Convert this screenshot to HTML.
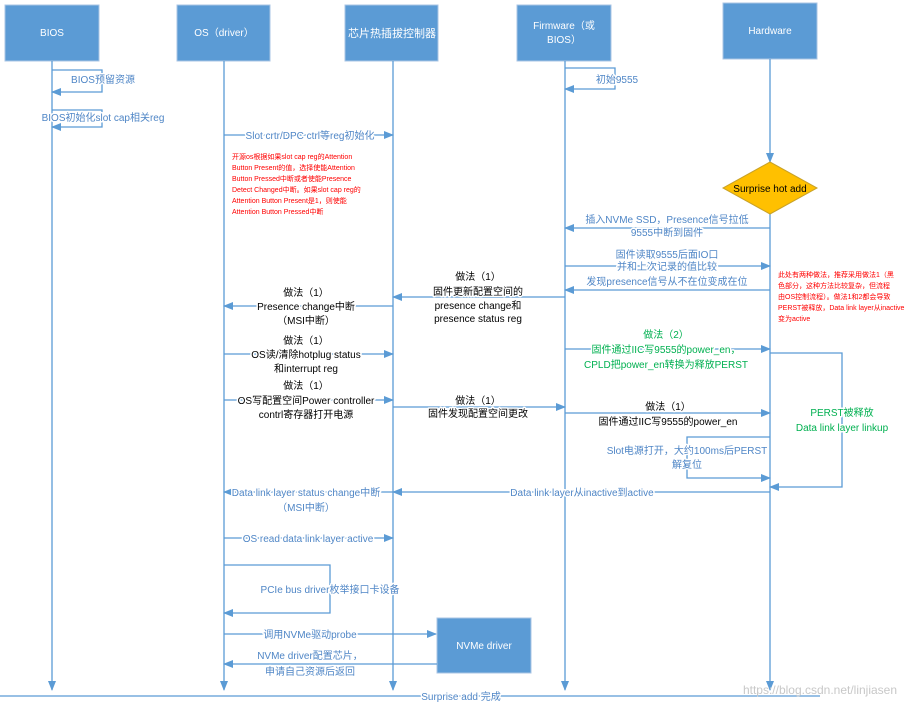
<!DOCTYPE html>
<html><head><meta charset="utf-8"><style>
body{margin:0;background:#fff}
svg{display:block}
text{font-family:"Liberation Sans","Noto Sans CJK SC",sans-serif;font-size:10px;text-anchor:middle;paint-order:stroke;stroke:#fff;stroke-width:3px;stroke-linejoin:round}
.b{fill:#4f86c6}.k{fill:#000}.g{fill:#00b050}.r{fill:#ff0000;font-size:7px;text-anchor:start;stroke:none}
.h{fill:#fff;stroke:none;font-size:10px}
line,polyline{stroke:#5b9bd5;stroke-width:1.3;fill:none}
</style></head><body>
<svg width="914" height="709" viewBox="0 0 914 709">
<defs><marker id="a" markerWidth="10" markerHeight="8" refX="9" refY="4" orient="auto" markerUnits="userSpaceOnUse"><path d="M0,0L10,4L0,8z" fill="#5b9bd5"/></marker></defs>
<!-- headers -->
<g fill="#5b9bd5" stroke="#a9c4e4" stroke-width="1">
<rect x="5" y="5" width="94" height="56"/><rect x="177" y="5" width="93" height="56"/><rect x="345" y="5" width="93" height="56"/><rect x="517" y="5" width="94" height="56"/><rect x="723" y="3" width="94" height="56"/><rect x="437" y="618" width="94" height="55"/>
</g>
<text class="h" x="52" y="36">BIOS</text><text class="h" x="224" y="36">OS（driver）</text><text class="h" x="392" y="37" style="font-size:11px">芯片热插拔控制器</text>
<text class="h" x="564" y="29">Firmware（或</text><text class="h" x="564" y="43">BIOS）</text><text class="h" x="770" y="34">Hardware</text><text class="h" x="484" y="649">NVMe driver</text>
<!-- lifelines -->
<line x1="52" y1="61" x2="52" y2="690" marker-end="url(#a)"/>
<line x1="224" y1="61" x2="224" y2="690" marker-end="url(#a)"/>
<line x1="393" y1="61" x2="393" y2="690" marker-end="url(#a)"/>
<line x1="565" y1="61" x2="565" y2="690" marker-end="url(#a)"/>
<line x1="770" y1="59" x2="770" y2="162" marker-end="url(#a)"/>
<line x1="770" y1="213" x2="770" y2="690" marker-end="url(#a)"/>
<polygon points="770,162 817,188 770,214 723,188" fill="#ffc000" stroke="#c9a227"/>
<text x="770" y="192" style="stroke:none;font-size:10px">Surprise hot add</text>
<line x1="0" y1="696" x2="820" y2="696"/>
<!-- loops -->
<polyline points="52,70 102,70 102,92 52,92" marker-end="url(#a)"/>
<polyline points="52,110 102,110 102,127 52,127" marker-end="url(#a)"/>
<polyline points="565,68 615,68 615,89 565,89" marker-end="url(#a)"/>
<polyline points="770,437 687,437 687,478 770,478" marker-end="url(#a)"/>
<polyline points="770,353 842,353 842,487 770,487" marker-end="url(#a)"/>
<polyline points="224,565 330,565 330,613 224,613" marker-end="url(#a)"/>
<text class="b" x="103" y="83">BIOS预留资源</text>
<text class="b" x="103" y="121">BIOS初始化slot cap相关reg</text>
<text class="b" x="617" y="83">初始9555</text>
<text class="b" x="687" y="454">Slot电源打开，大约100ms后PERST</text>
<text class="b" x="687" y="468">解复位</text>
<text class="g" x="842" y="416">PERST被释放</text>
<text class="g" x="842" y="431">Data link layer linkup</text>
<text class="b" x="330" y="593">PCIe bus driver枚举接口卡设备</text>
<!-- messages -->
<line x1="224" y1="135" x2="393" y2="135" marker-end="url(#a)"/>
<text class="b" x="310" y="139">Slot crtr/DPC ctrl等reg初始化</text>
<line x1="770" y1="228" x2="565" y2="228" marker-end="url(#a)"/>
<text class="b" x="667" y="223">插入NVMe SSD，Presence信号拉低</text>
<text class="b" x="667" y="236">9555中断到固件</text>
<line x1="565" y1="266" x2="770" y2="266" marker-end="url(#a)"/>
<text class="b" x="667" y="258">固件读取9555后面IO口</text>
<text class="b" x="667" y="270">并和上次记录的值比较</text>
<text class="b" x="667" y="285">发现presence信号从不在位变成在位</text>
<line x1="770" y1="290" x2="565" y2="290" marker-end="url(#a)"/>
<line x1="565" y1="297" x2="393" y2="297" marker-end="url(#a)"/>
<text class="k" x="478" y="280">做法（1）</text>
<text class="k" x="478" y="295">固件更新配置空间的</text>
<text class="k" x="478" y="309">presence change和</text>
<text class="k" x="478" y="322">presence status reg</text>
<line x1="393" y1="306" x2="224" y2="306" marker-end="url(#a)"/>
<text class="k" x="306" y="296">做法（1）</text>
<text class="k" x="306" y="310">Presence change中断</text>
<text class="k" x="306" y="324">（MSI中断）</text>
<line x1="224" y1="354" x2="393" y2="354" marker-end="url(#a)"/>
<text class="k" x="306" y="344">做法（1）</text>
<text class="k" x="306" y="358">OS读/清除hotplug status</text>
<text class="k" x="306" y="372">和interrupt reg</text>
<line x1="224" y1="400" x2="393" y2="400" marker-end="url(#a)"/>
<text class="k" x="306" y="389">做法（1）</text>
<text class="k" x="306" y="404">OS写配置空间Power controller</text>
<text class="k" x="306" y="418">contrl寄存器打开电源</text>
<line x1="393" y1="407" x2="565" y2="407" marker-end="url(#a)"/>
<text class="k" x="478" y="404">做法（1）</text>
<text class="k" x="478" y="417">固件发现配置空间更改</text>
<line x1="565" y1="349" x2="770" y2="349" marker-end="url(#a)"/>
<text class="g" x="666" y="338">做法（2）</text>
<text class="g" x="666" y="353">固件通过IIC写9555的power_en，</text>
<text class="g" x="666" y="368">CPLD把power_en转换为释放PERST</text>
<line x1="565" y1="413" x2="770" y2="413" marker-end="url(#a)"/>
<text class="k" x="668" y="410">做法（1）</text>
<text class="k" x="668" y="425">固件通过IIC写9555的power_en</text>
<line x1="770" y1="492" x2="393" y2="492" marker-end="url(#a)"/>
<line x1="393" y1="492" x2="224" y2="492" marker-end="url(#a)"/>
<text class="b" x="582" y="496">Data link layer从inactive到active</text>
<text class="b" x="306" y="496">Data link layer status change中断</text>
<text class="b" x="306" y="511">（MSI中断）</text>
<line x1="224" y1="538" x2="393" y2="538" marker-end="url(#a)"/>
<text class="b" x="308" y="542">OS read data link layer active</text>
<line x1="224" y1="634" x2="436" y2="634" marker-end="url(#a)"/>
<text class="b" x="310" y="638">调用NVMe驱动probe</text>
<line x1="437" y1="664" x2="224" y2="664" marker-end="url(#a)"/>
<text class="b" x="310" y="659">NVMe driver配置芯片，</text>
<text class="b" x="310" y="675">申请自己资源后返回</text>
<text class="b" x="461" y="700">Surprise add 完成</text>
<!-- red notes -->
<g class="r">
<text class="r" x="232" y="159">开源os根据如果slot cap reg的Attention</text>
<text class="r" x="232" y="170">Button Present的值，选择使能Attention</text>
<text class="r" x="232" y="181">Button Pressed中断或者使能Presence</text>
<text class="r" x="232" y="192">Detect Changed中断。如果slot cap reg的</text>
<text class="r" x="232" y="203">Attention Button Present是1，则使能</text>
<text class="r" x="232" y="214">Attention Button Pressed中断</text>
<text class="r" x="778" y="277">此处有两种做法，推荐采用做法1（黑</text>
<text class="r" x="778" y="288">色部分，这种方法比较复杂，但流程</text>
<text class="r" x="778" y="299">由OS控制流程）。做法1和2都会导致</text>
<text class="r" x="778" y="310">PERST被释放，Data link layer从inactive</text>
<text class="r" x="778" y="321">变为active</text>
</g>
<text x="820" y="694" style="fill:#c8c8c8;stroke:none;font-size:12px">https://blog.csdn.net/linjiasen</text>
</svg>
</body></html>
